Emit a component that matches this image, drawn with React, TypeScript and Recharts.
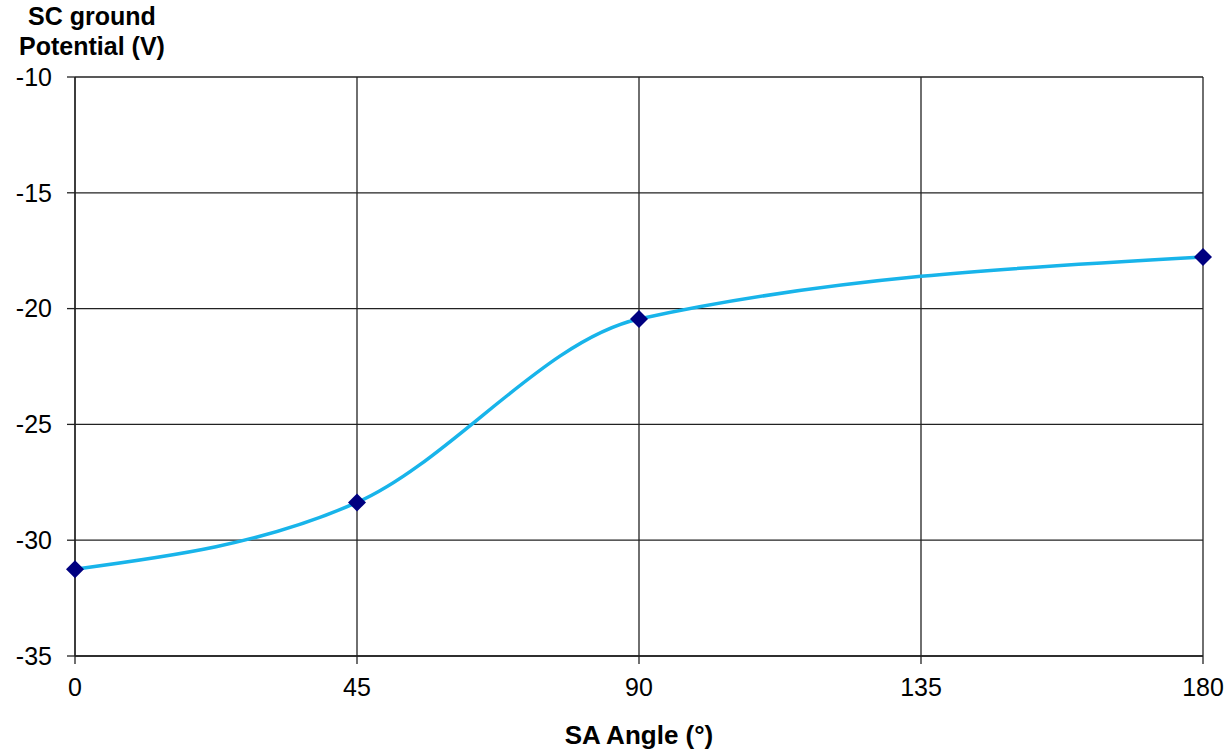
import { LineChart, Line, XAxis, YAxis, CartesianGrid } from "recharts";

const angles = [0, 45, 90, 180];
const potential = [-31.25, -28.37, -20.45, -17.77];
const xTicks = [0, 45, 90, 135, 180];
const yTicks = [-35, -30, -25, -20, -15, -10];

const data = angles.map((a, i) => ({ angle: a, v: potential[i] }));

const FONT = "'Liberation Sans', Arial, sans-serif";
const TICK = { fill: "#000", fontSize: 25, fontFamily: FONT };

function Diamond({ cx, cy, index }: any) {
  const r = 9;
  return (
    <polygon
      key={index}
      points={`${cx},${cy - r} ${cx + r},${cy} ${cx},${cy + r} ${cx - r},${cy}`}
      fill="#000080"
    />
  );
}

function YTitle() {
  const x = 92;
  return (
    <text x={x} y={0} textAnchor="middle" fontFamily={FONT} fontWeight="bold" fontSize={25} fill="#000">
      <tspan x={x} y={25}>SC ground</tspan>
      <tspan x={x} y={55}>Potential (V)</tspan>
    </text>
  );
}

function XTitle({ viewBox }: any) {
  const { x, y, width } = viewBox;
  return (
    <text x={x + width / 2} y={y + 88} textAnchor="middle" fontFamily={FONT} fontWeight="bold" fontSize={26} fill="#000">
      SA Angle (°)
    </text>
  );
}

export default function App() {
  return (
    <div style={{ position: "absolute", left: 0, top: 0, background: "#fff" }}>
      <LineChart width={1230} height={751} data={data}
        margin={{ top: 77, right: 27, left: 0, bottom: 0 }}>
        <CartesianGrid stroke="#222" strokeWidth={1.3} verticalValues={xTicks} horizontalValues={yTicks} />
        <XAxis dataKey="angle" type="number" domain={[0, 180]} ticks={xTicks}
          height={95} tickSize={8} tickMargin={14} tick={TICK}
          axisLine={{ stroke: "#222", strokeWidth: 1.3 }} tickLine={{ stroke: "#222", strokeWidth: 1.3 }}
          label={<XTitle />} />
        <YAxis type="number" domain={[-35, -10]} ticks={yTicks} width={75}
          tickSize={8} tickMargin={15} tick={TICK} interval={0}
          axisLine={{ stroke: "#222", strokeWidth: 1.3 }} tickLine={{ stroke: "#222", strokeWidth: 1.3 }}
          label={<YTitle />} />
        <Line type="monotone" dataKey="v" stroke="#18B4EA" strokeWidth={3.5}
          dot={<Diamond />} activeDot={false} isAnimationActive={false} />
      </LineChart>
    </div>
  );
}
